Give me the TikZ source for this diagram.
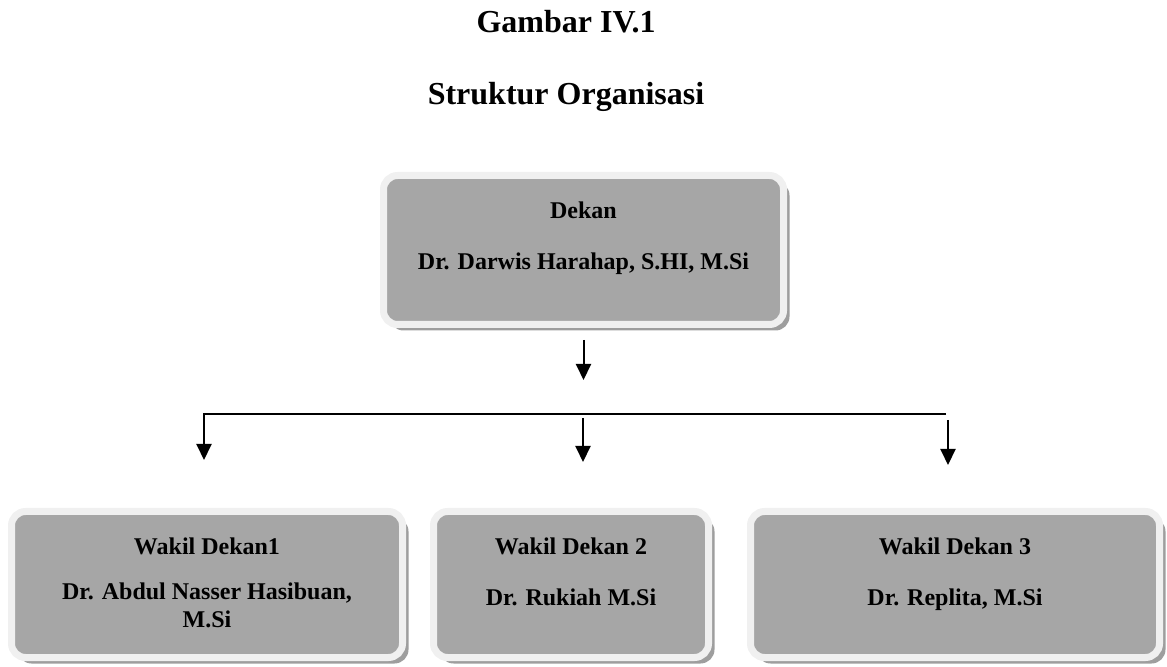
\documentclass[tikz,border=0pt]{standalone}
\usepackage{fontspec}
\setmainfont{Liberation Serif}
\usetikzlibrary{arrows.meta, shadows}
\definecolor{cfill}{HTML}{A6A6A6}
\definecolor{crim}{HTML}{F0F0F0}
\definecolor{cshade}{HTML}{9E9E9E}
\definecolor{cink}{HTML}{000000}

\begin{document}
\begin{tikzpicture}[
  x=0.5pt, y=-0.5pt,
  box/.style={draw=crim, fill=cfill, line width=3.5pt, rounded corners=7pt,
              text=cink, align=center, inner sep=0pt,
              font=\fontsize{12pt}{14pt}\selectfont\bfseries,
              drop shadow={shadow xshift=3pt, shadow yshift=-3pt, fill=cshade, opacity=1}},
  head/.style={text=cink, anchor=base, font=\fontsize{16pt}{19pt}\selectfont\bfseries},
  flow/.style={-{Triangle[length=8pt, width=7.5pt]}, line width=1pt, draw=cink},
  bus/.style={line width=1pt, draw=cink}
]
\useasboundingbox (0,0) rectangle (1167,667);

% titles
\node[head] (fig) at (566,33) {Gambar IV.1};
\node[head] (ttl) at (566,105) {Struktur Organisasi};

% dean
\node[box, minimum width=200pt, minimum height=74.5pt, text height=34pt, text depth=14pt]
  (dekan) at (583.5,250) {Dekan\\[11.5pt]Dr. Darwis Harahap, S.HI, M.Si};

% vice deans
\node[box, minimum width=195.5pt, minimum height=73pt, text height=44.5pt, text depth=2pt]
  (wd1) at (207,584.5) {Wakil Dekan1\\[8.5pt]Dr. Abdul Nasser Hasibuan,\\[-0.5pt]M.Si};
\node[box, minimum width=137.5pt, minimum height=73pt, text height=33.5pt, text depth=13pt]
  (wd2) at (571,584.5) {Wakil Dekan 2\\[11pt]Dr. Rukiah M.Si};
\node[box, minimum width=204.5pt, minimum height=73pt, text height=33.5pt, text depth=13pt]
  (wd3) at (955,584.5) {Wakil Dekan 3\\[11pt]Dr. Replita, M.Si};

% connectors
\coordinate (dtip) at (583.5,380);
\coordinate (busL) at (204,414);
\coordinate (busR) at (946,414);
\coordinate (t1) at (204,460);
\coordinate (t2) at (583,462);
\coordinate (t3) at (948,465);

\draw[flow, shorten <=6pt] (dekan.south) -- (dtip);
\draw[flow] (busR) -- (busL) -- (t1);
\draw[flow, shorten <=2pt] (t2 |- busL) -- (t2);
\draw[flow, shorten <=3pt] (t3 |- busR) -- (t3);
\end{tikzpicture}
\end{document}
